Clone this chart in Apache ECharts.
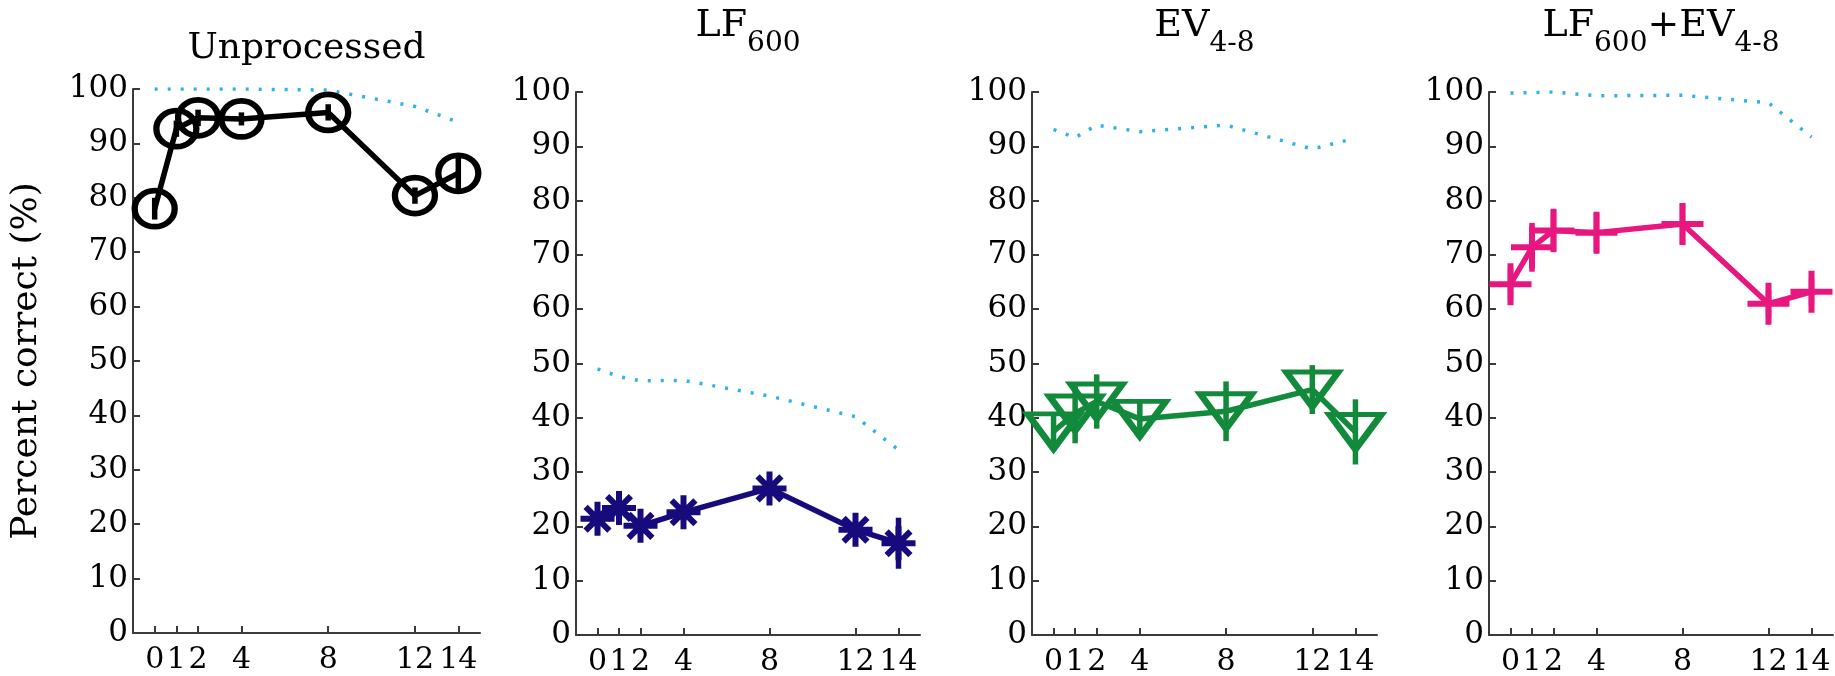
<!DOCTYPE html>
<html>
<head>
<meta charset="utf-8">
<title>Percent correct</title>
<script src="https://cdn.jsdelivr.net/npm/echarts@6.0.0/dist/echarts.min.js"></script>
<style>
    html, body { margin: 0; padding: 0; background: #fff; }
    #chart { width: 1835px; height: 676px; }
</style>
</head>
<body>
<div id="chart"></div>
<script>
// shift values on the x axis
var xTicks = [0, 1, 2, 4, 8, 12, 14];
var yTicks = [0, 10, 20, 30, 40, 50, 60, 70, 80, 90, 100];

// Unprocessed
var unprocMean = [78.0, 92.7, 94.7, 94.5, 95.7, 80.4, 84.5];
var unprocErr = [2.0, 1.5, 1.5, 1.2, 1.5, 1.5, 3.5];
var unprocCeil = [100, 100, 100, 100, 99.8, 96.8, 93.9];

// LF600
var lfMean = [21.4, 23.4, 20.1, 22.6, 27.0, 19.4, 16.9];
var lfErr = [1.5, 1.5, 1.5, 1.5, 1.5, 1.5, 4.7];
var lfCeil = [49.0, 47.6, 46.8, 46.9, 44.0, 40.2, 34.1];

// EV4-8
var evMean = [37.5, 40.8, 43.0, 39.8, 41.2, 45.2, 37.4];
var evErr = [3.5, 5.5, 5.0, 3.5, 5.5, 4.5, 6.0];
var evCeil = [93.1, 91.6, 93.9, 92.7, 93.9, 89.5, 91.5];

// LF600+EV4-8
var bothMean = [64.6, 71.4, 74.5, 74.1, 75.7, 61.0, 63.2];
var bothErr = [3.0, 4.5, 4.0, 3.5, 3.8, 2.5, 2.5];
var bothCeil = [99.8, 99.9, 100, 99.3, 99.4, 98.0, 91.7];

var FONT = '"DejaVu Serif", serif';
var CEIL_COLOR = '#2fb3e6';

var panels = [
    { title: 'Unprocessed', mean: unprocMean, err: unprocErr, ceil: unprocCeil, color: '#000000',
      symbol: 'circle', symbolSize: [40, 36], grid: { left: 133, top: 89, width: 347, height: 544 } },
    { title: '{m|LF}{s|600}', mean: lfMean, err: lfErr, ceil: lfCeil, color: '#170a7c',
      symbol: 'path://M0,-10L0,10M-10,0L10,0M-7,-7L7,7M-7,7L7,-7', symbolSize: 34,
      grid: { left: 576, top: 92, width: 344, height: 543 } },
    { title: '{m|EV}{s|4-8}', mean: evMean, err: evErr, ceil: evCeil, color: '#128a3b',
      symbol: 'path://M-10,-6L10,-6L0,8Z', symbolSize: [52, 35],
      grid: { left: 1032, top: 92, width: 345, height: 543 } },
    { title: '{m|LF}{s|600}{m|+EV}{s|4-8}', mean: bothMean, err: bothErr, ceil: bothCeil, color: '#e8177f',
      symbol: 'path://M-10,0L10,0M0,-10L0,10', symbolSize: 42,
      grid: { left: 1489, top: 92, width: 344, height: 543 } }
];

var chart = echarts.init(document.getElementById('chart'));

var grids = [], xAxes = [], yAxes = [], series = [], graphics = [];

panels.forEach(function (p, i) {
    // keep the axes exactly where the reference has them
    grids.push(Object.assign({ outerBoundsMode: 'none', containLabel: false }, p.grid));

    var axisLine = { show: true, onZero: false, lineStyle: { color: '#3a3a3a', width: 2 } };
    xAxes.push({
        type: 'value', gridIndex: i, min: -1, max: 15,
        axisLine: axisLine,
        axisTick: { show: true, inside: true, length: 7, customValues: xTicks, lineStyle: { color: '#3a3a3a', width: 2 } },
        axisLabel: { customValues: xTicks, color: '#000', fontFamily: FONT, fontSize: 30, margin: 12 },
        splitLine: { show: false }
    });
    yAxes.push({
        type: 'value', gridIndex: i, min: 0, max: 100, interval: 10,
        axisLine: axisLine,
        axisTick: { show: true, inside: true, length: 7, lineStyle: { color: '#3a3a3a', width: 2 } },
        axisLabel: { customValues: yTicks, color: '#000', fontFamily: FONT, fontSize: 31, margin: 5 },
        splitLine: { show: false },
        name: i === 0 ? 'Percent correct (%)' : '',
        nameLocation: 'middle',
        nameRotate: 90,
        nameGap: 88,
        nameTextStyle: { color: '#000', fontFamily: FONT, fontSize: 36 }
    });

    // dotted ceiling line
    series.push({
        type: 'line', xAxisIndex: i, yAxisIndex: i, z: 1,
        data: xTicks.map(function (x, k) { return [x, p.ceil[k]]; }),
        showSymbol: false, silent: true,
        lineStyle: { color: CEIL_COLOR, width: 3.5, type: [3, 10] }
    });

    // error bars
    series.push({
        type: 'custom', xAxisIndex: i, yAxisIndex: i, z: 2,
        data: xTicks.map(function (x, k) { return [x, p.mean[k] - p.err[k], p.mean[k] + p.err[k]]; }),
        encode: { x: 0, y: [1, 2] },
        renderItem: function (params, api) {
            var a = api.coord([api.value(0), api.value(1)]);
            var b = api.coord([api.value(0), api.value(2)]);
            return {
                type: 'line',
                shape: { x1: a[0], y1: a[1], x2: b[0], y2: b[1] },
                style: { stroke: p.color, lineWidth: 5.5 }
            };
        }
    });

    // mean line with markers
    series.push({
        type: 'line', xAxisIndex: i, yAxisIndex: i, z: 3,
        data: xTicks.map(function (x, k) { return [x, p.mean[k]]; }),
        symbol: p.symbol, symbolSize: p.symbolSize, showAllSymbol: true,
        lineStyle: { color: p.color, width: 5.5 },
        itemStyle: { color: 'rgba(0,0,0,0)', borderColor: p.color, borderWidth: 6 }
    });

    // panel title, centred over its axes
    var cx = p.grid.left + p.grid.width / 2;
    graphics.push({
        type: 'text', x: cx, y: i === 0 ? 31 : 7,
        style: {
            text: p.title, align: 'center', verticalAlign: 'top',
            fill: '#000', fontFamily: FONT, fontSize: 36,
            rich: {
                m: { fontFamily: FONT, fontSize: 38, verticalAlign: 'top', fill: '#000' },
                s: { fontFamily: FONT, fontSize: 28, verticalAlign: 'top', padding: [23, 0, 0, 0], fill: '#000' }
            }
        }
    });
});

chart.setOption({
    animation: false,
    backgroundColor: '#fff',
    grid: grids,
    xAxis: xAxes,
    yAxis: yAxes,
    series: series,
    graphic: graphics
});
</script>
</body>
</html>
